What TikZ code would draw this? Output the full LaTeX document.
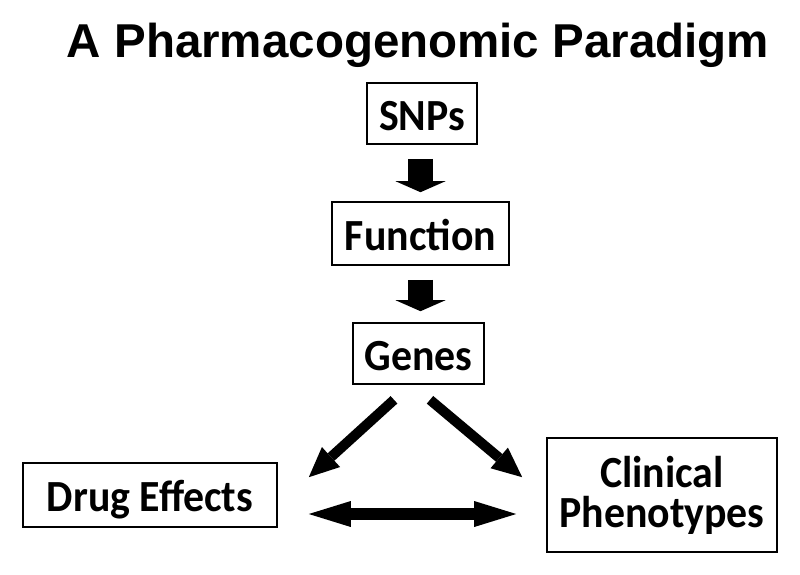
\documentclass[tikz,border=0pt]{standalone}
\usepackage{fontspec}
\setmainfont{Carlito}
\newfontfamily\boxfont{Carlito}[FakeStretch=0.94]
\newfontfamily\titlefont{Liberation Sans}
\usetikzlibrary{arrows.meta,calc}
\begin{document}
\begin{tikzpicture}[x=1pt,y=-1pt,
  box/.style={draw, line width=1.6pt, inner sep=0pt, align=center,
    text height=33.5pt, text depth=0pt,
    font=\boxfont\fontsize{44.5}{40}\selectfont\bfseries},
  downarrow/.style={line width=25pt, -{Triangle[width=50pt,length=11pt,line width=0pt]}},
  diagarrow/.style={line width=10pt, -{Triangle[width=27pt,length=30pt,line width=0pt]}},
  dblarrow/.style={line width=12pt,
    {Triangle[width=26pt,length=42pt,line width=0pt]}-{Triangle[width=26pt,length=42pt,line width=0pt]}}]
\useasboundingbox (0,0) rectangle (800,574);
\node[anchor=base, font=\titlefont\fontsize{47.5}{50}\selectfont\bfseries] (title) at (418,57) {A Pharmacogenomic Paradigm};
\node[box, minimum width=110pt, minimum height=61pt] (snps) at (422,113.5) {SNPs};
\node[box, minimum width=177pt, minimum height=63pt] (fn) at (420.5,233.5) {Function};
\node[box, minimum width=131pt, minimum height=61pt] (genes) at (418.5,353.5) {Genes};
\node[box, minimum width=254pt, minimum height=64pt] (drug) at (150,495) {Drug Effects};
\node[box, minimum width=230pt, minimum height=114pt, text height=64pt, text depth=0pt] (clin) at (662,495) {Clinical\\Phenotypes};
\draw[downarrow] ($(fn.north |- snps.south)+(0,14)$) -- ($(fn.north)+(0,-9)$);
\draw[downarrow] ($(fn.south)+(0,14)$) -- ($(fn.south |- genes.north)+(0,-11)$);
\draw[diagarrow] ($(genes.south)+(-24.5,15)$) -- ($(drug.north east)+(31,15)$);
\draw[diagarrow] ($(genes.south)+(11.5,15)$) -- ($(clin.north west)+(-24,40)$);
\draw[dblarrow] ($(drug.east)+(31,19)$) -- ($(clin.west)+(-30,19)$);
\end{tikzpicture}
\end{document}
